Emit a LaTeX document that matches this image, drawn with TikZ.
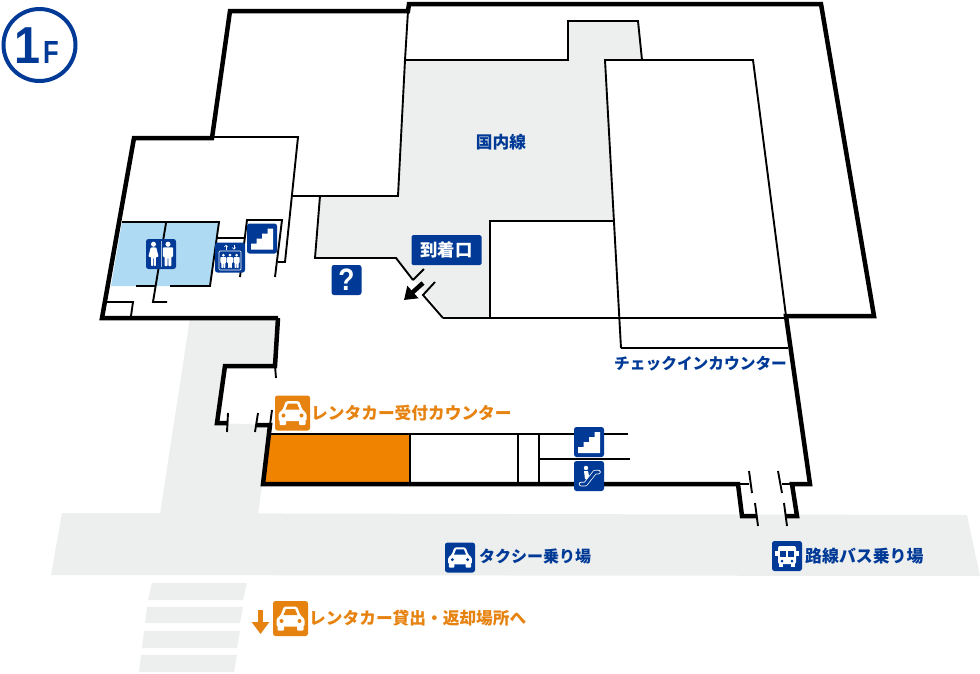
\documentclass[tikz,border=0pt]{standalone}
\usepackage{fontspec}
\setmainfont{Liberation Sans}
\newfontfamily\cjk{Noto Sans CJK JP}
\usetikzlibrary{arrows.meta}

\definecolor{mapblue}{HTML}{003A96}
\definecolor{caricon}{HTML}{E6820F}
\definecolor{rentfill}{HTML}{F08300}
\definecolor{floorgrey}{HTML}{EDEFEF}
\definecolor{toiletblue}{HTML}{AEDAF4}

\tikzset{
    wallthick/.style={line width=4.5pt, miter limit=10},
    wallthin/.style={line width=1.9pt},
    iconbox/.style={fill=mapblue, rounded corners=2.5pt, minimum size=30pt, inner sep=0pt},
    caribox/.style={fill=caricon, rounded corners=2.5pt, minimum size=35pt, inner sep=0pt},
    bluetext/.style={text=mapblue, inner sep=0pt, font=\cjk\bfseries\fontsize{#1}{#1}\selectfont},
    orangetext/.style={text=caricon, inner sep=0pt, font=\cjk\bfseries\fontsize{16.7}{16.7}\selectfont},
    pics/stairglyph/.style={code={
        \fill[white] (-11,11) -- (11,11) -- (11,-10) -- (5.5,-10) -- (5.5,-5) -- (0,-5)
            -- (0,0) -- (-5.5,0) -- (-5.5,5) -- (-11,5) -- cycle;
    }},
    pics/carglyph/.style={code={
        \fill[white, rounded corners=1.5pt] (-6.5,-12) -- (6.5,-12) -- (10,-3) -- (14,0)
            -- (14,8) -- (-14,8) -- (-14,0) -- (-10,-3) -- cycle;
        \fill[white, rounded corners=1pt] (-13,7) rectangle (-6.5,12);
        \fill[white, rounded corners=1pt] (6.5,7) rectangle (13,12);
        \fill[#1] (-4.5,-9.5) -- (4.5,-9.5) -- (7,-3.5) -- (-7,-3.5) -- cycle;
        \fill[#1] (-9,2.5) circle (2);
        \fill[#1] (9,2.5) circle (2);
    }},
    pics/busglyph/.style={code={
        \fill[white, rounded corners=2pt] (-9,-10) rectangle (9,8);
        \fill[white] (-12,-5) rectangle (12,0);
        \fill[white] (-8,7) rectangle (-4,11);
        \fill[white] (4,7) rectangle (8,11);
        \fill[mapblue] (-7,-5) rectangle (-1,1);
        \fill[mapblue] (1,-5) rectangle (7,1);
        \fill[mapblue] (-5,5) circle (1.5);
        \fill[mapblue] (5,5) circle (1.5);
    }},
    pics/manglyph/.style={code={
        \fill[white] (0,-10.5) circle (2.7);
        \fill[white, rounded corners=0.8pt] (-5.5,-7) -- (5.5,-7) -- (5.5,3) -- (3.6,3) -- (3.6,13)
            -- (0.4,13) -- (0.4,4) -- (-0.4,4) -- (-0.4,13) -- (-3.6,13) -- (-3.6,3) -- (-5.5,3) -- cycle;
    }},
    pics/womanglyph/.style={code={
        \fill[white] (0,-10.5) circle (2.7);
        \fill[white, rounded corners=0.8pt] (-3,-7) -- (3,-7) -- (5.5,3) -- (2.6,3) -- (2.6,13)
            -- (0.4,13) -- (0.4,4) -- (-0.4,4) -- (-0.4,13) -- (-2.6,13) -- (-2.6,3) -- (-5.5,3) -- cycle;
    }},
    pics/liftglyph/.style={code={
        \draw[white, line width=0.7pt, rounded corners=1pt] (-11,-6.5) rectangle (11,12.5);
        \draw[white, line width=0.6pt, -{Straight Barb[length=1.5pt,width=3.5pt]}] (-4,-8) -- (-4,-12.5);
        \draw[white, line width=0.6pt, -{Straight Barb[length=1.5pt,width=3.5pt]}] (4,-12.5) -- (4,-8);
        \foreach \liftX in {-6.7,0,6.7}
            \pic[scale=0.55] at (\liftX,3.5) {manglyph};
    }},
    pics/escalglyph/.style={code={
        \fill[white] (-3,-8) circle (2.2);
        \fill[white] (-5,-5) -- (-1,-5) -- (0,0) -- (-2.5,3) -- (-4,3) -- cycle;
        \draw[white, line width=4.5pt, line cap=round, line join=round] (-8,8) -- (-3.5,8) -- (6,-4) -- (9.5,-4);
        \draw[mapblue, line width=3pt, line cap=round, line join=round] (-8,8) -- (-3.5,8) -- (6,-4) -- (9.5,-4);
    }}
}

\begin{document}
\begin{tikzpicture}[x=1pt, y=-1pt]
    \useasboundingbox (0,0) rectangle (980,673);

    % Grey floors
        \fill[floorgrey] (405,60) -- (568,60) -- (568,21) -- (638,21) -- (642,60) -- (605,60)
            -- (614,221) -- (490,221) -- (490,318) -- (445,318) -- (396,258) -- (315,258)
            -- (320,196) -- (398,196) -- cycle;
        \fill[floorgrey] (190,318) -- (278,318) -- (275,366) -- (225,366) -- (217,423) -- (270,425)
            -- (262,486) -- (258,514) -- (160,514) -- cycle;
        \fill[floorgrey] (62,513) -- (967,515) -- (980,576) -- (51,575) -- cycle;

    % Crossing
        \fill[floorgrey] (152,583) -- (247,583) -- (243,600) -- (148,600) -- cycle;
        \fill[floorgrey] (147,607) -- (243,607) -- (240,623) -- (145,623) -- cycle;
        \fill[floorgrey] (144,631) -- (240,631) -- (237,648) -- (142,648) -- cycle;
        \fill[floorgrey] (141,655) -- (237,655) -- (234,672) -- (139,672) -- cycle;

    % Coloured rooms
        \fill[toiletblue] (122,222) -- (219,222) -- (210,286) -- (111,286) -- cycle;
        \fill[rentfill] (270,434) -- (410,434) -- (410,484) -- (263,484) -- cycle;

    % Outer walls
        \draw[wallthick] (278,318) -- (102,318) -- (134,138) -- (212,138) -- (230,11) -- (408,11)
            -- (409,4) -- (821,4) -- (874,316) -- (786,316) -- (810,484) -- (792,484)
            -- (797,516) -- (785,516);
        \draw[wallthick] (278,318) -- (275,366) -- (225,366) -- (217,423) -- (228,423);
        \draw[wallthick] (257,425) -- (270,425) -- (263,484) -- (738,484) -- (742,516) -- (757,516);

    % North rooms
        \draw[wallthin] (408,11) -- (405,60) -- (568,60) -- (568,21) -- (638,21) -- (642,60);
        \draw[wallthin] (405,60) -- (398,196) -- (292,196);
        \draw[wallthin] (214,137) -- (298,137) -- (285,262) -- (278,262);
        \draw[wallthin] (320,196) -- (315,258) -- (396,258) -- (413,280);
        \draw[wallthin] (413,280) -- (424,269);
        \draw[wallthin] (435,282) -- (423,295) -- (443,318);

    % Check-in block
        \draw[wallthin] (621,348) -- (605,60) -- (753,60) -- (786,316);
        \draw[wallthin] (614,221) -- (490,221) -- (490,318);
        \draw[wallthin] (443,318) -- (786,318);
        \draw[wallthin] (621,348) -- (788,348);

    % Toilets and lift
        \draw[wallthin] (122,222) -- (219,222) -- (210,286) -- (170,286);
        \draw[wallthin] (136,286) -- (155,286);
        \draw[wallthin] (166,223) -- (153,302) -- (167,302);
        \draw[wallthin] (107,302) -- (133,302) -- (131,316);
        \draw[wallthin] (217,238) -- (245,238);
        \draw[wallthin] (240,277) -- (247,220) -- (282,220) -- (275,277);

    % Doors on the west side
        \draw[wallthin] (275,366) -- (276,378);
        \draw[wallthin] (228,413) -- (227,432);
        \draw[wallthin] (258,413) -- (255,432);
        \draw[wallthin] (272,410) -- (270,425);

    % Rental counter row
        \draw[wallthin] (270,434) -- (628,434);
        \draw[wallthin] (539,459) -- (630,459);
        \draw[wallthin] (410,434) -- (410,484);
        \draw[wallthin] (518,434) -- (518,484);
        \draw[wallthin] (539,434) -- (539,484);

    % Doors on the south side
        \draw[wallthin] (738,484) -- (749,484);
        \draw[wallthin] (782,484) -- (792,484);
        \draw[wallthin] (749,471) -- (752,493);
        \draw[wallthin] (778,471) -- (782,493);
        \draw[wallthin] (755,503) -- (758,526);
        \draw[wallthin] (784,503) -- (787,526);

    % Icons
        \node[iconbox] (stairsUpper) at (262,238.5) {};
        \pic at (stairsUpper) {stairglyph};
        \node[iconbox] (stairsLower) at (589,442) {};
        \pic at (stairsLower) {stairglyph};
        \node[iconbox] (escalator) at (589,476) {};
        \pic at (escalator) {escalglyph};
        \node[iconbox] (lift) at (230,257.5) {};
        \pic at (lift) {liftglyph};
        \node[iconbox] (toilets) at (161,254) {};
        \pic[scale=0.93] at (153.5,254) {womanglyph};
        \pic[scale=0.93] at (168,254) {manglyph};
        \draw[white!65!mapblue, line width=1pt] (toilets.center) ++(0,-13) -- ++(0,26);
        \node[iconbox] (infoDesk) at (346.5,280) {};
        \node[text=white, inner sep=0pt, xscale=0.85, font=\bfseries\fontsize{31}{31}\selectfont] (infoMark) at (infoDesk) {?};
        \node[iconbox] (taxiIcon) at (460,557.5) {};
        \pic[scale=0.85] at (taxiIcon) {carglyph=mapblue};
        \node[iconbox] (busIcon) at (787,556) {};
        \pic at (busIcon) {busglyph};
        \node[caribox] (rentalDesk) at (292.5,413) {};
        \pic at (rentalDesk) {carglyph=caricon};
        \node[caribox] (rentalLot) at (290.5,618.5) {};
        \pic at (rentalLot) {carglyph=caricon};

    % Floor badge
        \draw[mapblue, line width=4pt] (39.5,45) circle (36);
        \node[text=mapblue, inner sep=0pt, anchor=base west, xscale=0.9, font=\bfseries\fontsize{52}{52}\selectfont] (floorOne) at (14,63) {1};
        \node[text=mapblue, inner sep=0pt, anchor=base west, xscale=0.8, font=\bfseries\fontsize{32}{32}\selectfont] (floorF) at (43,63) {F};

    % Labels
        \node[bluetext=16.7] (domestic) at (501,142) {国内線};
        \node[fill=mapblue, rounded corners=1.5pt, minimum width=70pt, minimum height=30pt, inner sep=0pt,
            text=white, font=\cjk\bfseries\fontsize{17.3}{17.3}\selectfont] (arrivals) at (446.5,250) {到着口};
        \node[bluetext=15.7, anchor=west] (checkin) at (614,364) {チェックインカウンター};
        \node[orangetext, anchor=west] (rentalDeskText) at (311,413) {レンタカー受付カウンター};
        \node[bluetext=16, anchor=west] (taxiText) at (479,556) {タクシー乗り場};
        \node[bluetext=16.9, anchor=west] (busText) at (805,556) {路線バス乗り場};
        \node[orangetext, anchor=west] (rentalLotText) at (309,618) {レンタカー貸出・返却場所へ};

    % Arrows
        \coordinate (arrivalTail) at (423,283);
        \coordinate (arrivalTip) at (404,300);
        \draw[line width=4.5pt, -{Triangle[length=12pt,width=16pt]}] (arrivalTail) -- (arrivalTip);
        \coordinate (lotTail) at (260.5,610);
        \coordinate (lotTip) at (260.5,634);
        \draw[caricon, line width=5pt, -{Triangle[length=12pt,width=17pt]}] (lotTail) -- (lotTip);
\end{tikzpicture}
\end{document}
